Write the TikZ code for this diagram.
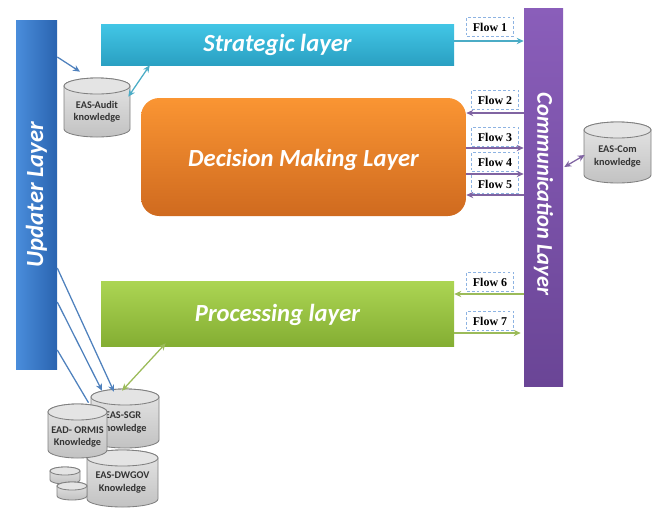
\documentclass[tikz,border=0pt]{standalone}
\usepackage{fontspec}
\setmainfont{Carlito}
\newfontfamily\flowfont{Liberation Serif}
\usetikzlibrary{fit,calc,arrows.meta}
\definecolor{updL}{HTML}{4A8DDB}
\definecolor{updR}{HTML}{2A64B0}
\definecolor{stratT}{HTML}{42C6E6}
\definecolor{stratB}{HTML}{2AA0C2}
\definecolor{decT}{HTML}{FA9533}
\definecolor{decB}{HTML}{CF6A1F}
\definecolor{procT}{HTML}{ACD553}
\definecolor{procB}{HTML}{84AE33}
\definecolor{commT}{HTML}{8A5EBA}
\definecolor{commB}{HTML}{6A4596}
\definecolor{acyan}{HTML}{4BACC6}
\definecolor{apurp}{HTML}{8064A2}
\definecolor{agreen}{HTML}{9BBB59}
\definecolor{ablue}{HTML}{4F81BD}
\definecolor{flowdash}{HTML}{8DB3E2}
\definecolor{cylA}{HTML}{E6E6E6}
\definecolor{cylB}{HTML}{C2C2C2}
\definecolor{cylTop}{HTML}{E4E4E4}
\definecolor{cylLine}{HTML}{808080}
\definecolor{cylTxt}{HTML}{333333}
% name, x1, y1, x2, y2, ry, text, text offset (dx,dy)
\newcommand{\dbcyl}[8]{%
  \pgfmathsetmacro{\cylrx}{(#4-#2)/2}%
  \pgfmathsetmacro{\cylcx}{(#4+#2)/2}%
  \draw[cylbody] (#2,#3+#6) -- (#2,#5-#6) arc[start angle=180,end angle=0,x radius=\cylrx,y radius=#6] -- (#4,#3+#6) arc[start angle=0,end angle=-180,x radius=\cylrx,y radius=#6] -- cycle;
  \draw[cyltop] (\cylcx,#3+#6) ellipse[x radius=\cylrx,y radius=#6];
  \node[inner sep=0pt, fit={(#2,#3+#6) (#4,#5)}] (#1) {};
  \node[cyltext] (#1t) at ($(#1.center)+#8$) {#7};
}
\begin{document}
\begin{tikzpicture}[x=0.025cm,y=-0.025cm,
  layer/.style={inner sep=0pt, draw=none},
  laytext/.style={text=white, font=\bfseries\itshape\fontsize{17.5}{20}\selectfont},
  flowbox/.style={draw=flowdash, dash pattern=on 2pt off 1.5pt, line width=0.7pt, fill=white,
    font=\flowfont\bfseries\fontsize{8.5}{10}\selectfont, minimum width=33pt, minimum height=14pt, inner sep=1pt},
  cylbody/.style={draw=cylLine, line width=0.6pt, top color=cylA, bottom color=cylB},
  cyltop/.style={draw=cylLine, line width=0.6pt, fill=cylTop},
  cyltext/.style={inner sep=0pt, align=center, text=cylTxt, font=\bfseries\fontsize{7.3}{8.8}\selectfont},
  arr/.style={line width=0.9pt, -{Stealth[length=5pt,width=4.5pt]}},
  darr/.style={line width=0.9pt, {Stealth[length=5pt,width=4.5pt]}-{Stealth[length=5pt,width=4.5pt]}}]
\useasboundingbox (0,0) rectangle (656,508);

% layers
\node[layer, fit={(16,20) (57,369)}, left color=updL, right color=updR] (upd) {};
\node[laytext, rotate=90] (updt) at (upd.center) {Updater Layer};
\node[layer, fit={(101,24) (454,65)}, top color=stratT, bottom color=stratB] (strat) {};
\node[laytext] (stratt) at (strat.center) {Strategic layer};
\node[layer, fit={(141,98) (466,216)}, rounded corners=13pt, top color=decT, bottom color=decB] (dec) {};
\node[laytext] (dect) at ($(dec.center)+(0,3)$) {Decision Making Layer};
\node[layer, fit={(101,281) (454,346)}, top color=procT, bottom color=procB] (proc) {};
\node[laytext] (proct) at ($(proc.center)+(0,1)$) {Processing layer};
\node[layer, fit={(524,8) (563,386)}, top color=commT, bottom color=commB] (comm) {};
\node[laytext, rotate=-90, font=\bfseries\itshape\fontsize{16}{19}\selectfont] (commt) at ($(comm.center)+(0,-3)$) {Communication Layer};

% knowledge bases
\dbcyl{audit}{64}{78}{130}{137}{8}{EAS-Audit\\knowledge}{(0,0)}
\dbcyl{com}{584}{122}{651}{183}{8}{EAS-Com\\knowledge}{(0,0)}
\dbcyl{sgr}{91}{389}{159}{448}{8}{EAS-SGR\\Knowledge}{(-2,0)}
\dbcyl{dwgov}{87}{450}{158}{507}{8}{EAS-DWGOV\\Knowledge}{(0,0)}
\dbcyl{ormis}{48}{404}{107}{458}{8}{EAD- ORMIS\\Knowledge}{(0,2)}
\dbcyl{small1}{50}{467}{80}{484}{4}{}{(0,0)}
\dbcyl{small2}{57}{482}{87}{500}{4}{}{(0,0)}

% flow labels
\node[flowbox] (f1) at (490,27) {Flow 1};
\node[flowbox] (f2) at (495,100) {Flow 2};
\node[flowbox] (f3) at (495,137) {Flow 3};
\node[flowbox] (f4) at (495,162) {Flow 4};
\node[flowbox] (f5) at (495,184) {Flow 5};
\node[flowbox] (f6) at (490,282) {Flow 6};
\node[flowbox] (f7) at (490,321) {Flow 7};

% flows
\coordinate (p1) at ($(strat.east)+(0,-3.5)$);
\draw[arr, acyan] (p1) -- (comm.west |- p1);
\coordinate (p2) at ($(dec.east)+(0,-44)$);
\draw[arr, apurp] (comm.west |- p2) -- (p2);
\coordinate (p3) at ($(dec.east)+(0,-9)$);
\draw[arr, apurp] (p3) -- (comm.west |- p3);
\coordinate (p4) at ($(dec.east)+(0,17)$);
\draw[arr, apurp] (p4) -- (comm.west |- p4);
\coordinate (p5) at ($(dec.east)+(0,38)$);
\draw[arr, apurp] (comm.west |- p5) -- (p5);
\coordinate (p6) at ($(proc.east)+(0,-19.5)$);
\draw[arr, agreen] (comm.west |- p6) -- (p6);
\coordinate (p7) at ($(proc.east)+(0,19.5)$);
\draw[arr, agreen] (p7) -- ($(comm.west |- p7)+(-3,0)$);

% knowledge connectors
\draw[arr, ablue] ($(upd.east)+(0,-137.5)$) -- ($(audit.north)+(-17,-14)$);
\draw[darr, acyan] ($(audit.north east)+(-2,11)$) -- ($(strat.south west)+(49,0)$);
\draw[darr, apurp] ($(comm.east)+(1,-30)$) -- ($(com.west)+(1,-1.5)$);
\draw[darr, agreen] ($(proc.south west)+(65,-3)$) -- ($(sgr.north)+(-3,-6)$);
\draw[arr, ablue] ($(upd.east)+(0,73.5)$) -- ($(sgr.north)+(-11,-5)$);
\draw[arr, ablue] ($(upd.east)+(0,107.5)$) -- ($(sgr.north)+(-23,-6)$);
\draw[line width=0.9pt, ablue] ($(upd.east)+(0,155.5)$) -- ($(ormis.north)+(11,-9)$);
\end{tikzpicture}
\end{document}
